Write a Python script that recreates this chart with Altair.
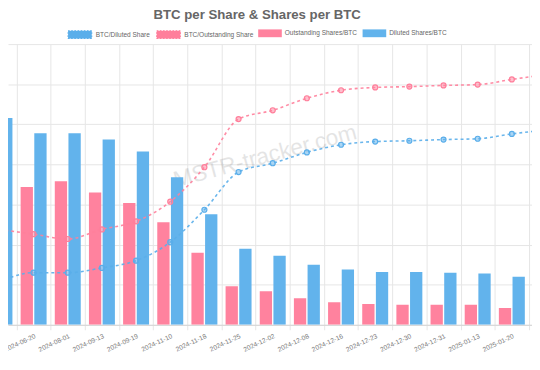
import json
import altair as alt
import pandas as pd

# ---------------- data ----------------
DATES = ["2024-04-29", "2024-06-20", "2024-08-01", "2024-09-13", "2024-09-19",
         "2024-11-10", "2024-11-18", "2024-11-25", "2024-12-02", "2024-12-08",
         "2024-12-16", "2024-12-23", "2024-12-30", "2024-12-31", "2025-01-13",
         "2025-01-20", "2025-01-27"]
OUTSTANDING_SHARES_PER_BTC = [833, 822, 829, 815, 802, 778, 740, 698, 692, 683,
                              678, 676, 675, 675, 675, 671, 668]
DILUTED_SHARES_PER_BTC = [908, 889, 889, 881, 866, 834, 788, 745, 736, 725,
                          719, 716, 716, 715, 714, 710, 706]
BTC_PER_DILUTED_SHARE = [0.000908, 0.000930, 0.000930, 0.000942, 0.000960,
                         0.001006, 0.001087, 0.001181, 0.001203, 0.001230,
                         0.001249, 0.001257, 0.001259, 0.001262, 0.001264,
                         0.001276, 0.001286]
BTC_PER_OUTSTANDING_SHARE = [0.001038, 0.001026, 0.001014, 0.001038, 0.001058,
                             0.001107, 0.001193, 0.001313, 0.001335, 0.001365,
                             0.001385, 0.001392, 0.001394, 0.001397, 0.001399,
                             0.001412, 0.001424]
BAR_SERIES = ["Outstanding Shares/BTC", "Diluted Shares/BTC"]
LINE_SERIES = ["BTC/Diluted Share", "BTC/Outstanding Share"]
TITLE = "BTC per Share & Shares per BTC"
WATERMARK = "MSTR-tracker.com"

# ---------------- tables ----------------
idx = list(range(len(DATES)))
bars = pd.DataFrame({
    "idx": idx * 2,
    "date": DATES * 2,
    "series": [BAR_SERIES[0]] * len(idx) + [BAR_SERIES[1]] * len(idx),
    "value": OUTSTANDING_SHARES_PER_BTC + DILUTED_SHARES_PER_BTC,
})
lines = pd.DataFrame({
    "idx": idx * 2,
    "date": DATES * 2,
    "series": [LINE_SERIES[0]] * len(idx) + [LINE_SERIES[1]] * len(idx),
    "value": BTC_PER_DILUTED_SHARE + BTC_PER_OUTSTANDING_SHARE,
})

FONT = "Liberation Sans"
GRID = "#e6e6e6"
PINK_BAR, BLUE_BAR = "#ff829e", "#62b3ec"
BLUE_LINE, PINK_LINE = "#5aaeea", "#ff7f9b"

xscale = alt.Scale(domain=[0.2503, 15.59], nice=False, zero=False)
xvals = [k / 2 for k in range(1, 32)]
xaxis = alt.Axis(
    values=xvals,
    labelExpr="datum.value % 1 == 0 ? " + json.dumps(DATES) + "[datum.value] : ''",
    grid=True, gridColor=GRID, gridWidth=1,
    gridOpacity={"condition": {"test": "datum.value % 1 != 0", "value": 1}, "value": 0},
    ticks=True, tickSize=5, tickColor=GRID,
    tickOpacity={"condition": {"test": "datum.value % 1 != 0", "value": 1}, "value": 0},
    domainColor="#d4d4d4", labelAngle=335, labelFontSize=6.7, labelColor="#777",
    labelFont=FONT, labelOverlap=False, labelPadding=3, labelFlush=False, title=None,
)

left_scale = alt.Scale(domain=[650, 1000], nice=False, zero=False)
left_axis = alt.Axis(values=list(range(650, 1001, 50)), grid=True, gridColor=GRID,
                     labels=False, ticks=False, domain=False, title=None)
right_scale = alt.Scale(domain=[0.0008, 0.0015], nice=False, zero=False)
right_axis = alt.Axis(orient="right", grid=False, labels=False, ticks=False,
                      domain=False, title=None)

LEGEND_SYMBOL = "M-1,-0.33H1V0.33H-1Z"
bar_legend = alt.Legend(orient="none", legendX=254, legendY=-23, direction="horizontal",
                        title=None, symbolType=LEGEND_SYMBOL, symbolSize=576,
                        symbolStrokeWidth=0, symbolOpacity=1, labelFontSize=6.6,
                        labelColor="#666", labelFont=FONT, labelOffset=3,
                        columnPadding=5, padding=0)
line_legend = alt.Legend(orient="none", legendX=60, legendY=-23, direction="horizontal",
                         title=None, symbolType=LEGEND_SYMBOL, symbolSize=576,
                         symbolStrokeWidth=1.1,
                         symbolDash=[1.6, 1.6], symbolOpacity=1, labelFontSize=6.6,
                         labelColor="#666", labelFont=FONT, labelOffset=3,
                         columnPadding=4, padding=0)

watermark = alt.Chart(pd.DataFrame({"t": [WATERMARK]})).mark_text(
    fontSize=23, font=FONT, angle=345, color="#000", opacity=0.1,
    align="center", baseline="middle",
).encode(text="t:N", x=alt.value(261), y=alt.value(114))

bar_layer = alt.Chart(bars).transform_calculate(
    x0="datum.idx + (datum.series == '%s' ? -0.38 : 0.02)" % BAR_SERIES[0],
    x1="datum.idx + (datum.series == '%s' ? -0.02 : 0.38)" % BAR_SERIES[0],
).mark_bar(clip=True, strokeWidth=0).encode(
    x=alt.X("x0:Q", scale=xscale, axis=xaxis),
    x2="x1:Q",
    y=alt.Y("value:Q", scale=left_scale, axis=left_axis),
    y2=alt.datum(650),
    fill=alt.Fill("series:N", scale=alt.Scale(domain=BAR_SERIES, range=[PINK_BAR, BLUE_BAR]),
                  legend=bar_legend),
)

stroke_scale = alt.Scale(domain=LINE_SERIES, range=[BLUE_LINE, PINK_LINE])
color_scale = alt.Scale(domain=LINE_SERIES, range=[BLUE_LINE, PINK_LINE])
line_layer = alt.Chart(lines).mark_line(
    clip=True, strokeDash=[3, 3], strokeWidth=1.6, interpolate="monotone", opacity=0.9,
).encode(
    x=alt.X("idx:Q", scale=xscale, axis=xaxis),
    y=alt.Y("value:Q", scale=right_scale, axis=right_axis),
    stroke=alt.Stroke("series:N", scale=stroke_scale, legend=line_legend),
)
point_fill = alt.Chart(lines).mark_point(
    clip=True, filled=True, size=26, strokeWidth=0, opacity=0.5,
).encode(
    x=alt.X("idx:Q", scale=xscale, axis=xaxis),
    y=alt.Y("value:Q", scale=right_scale, axis=right_axis),
    color=alt.Color("series:N", scale=color_scale, legend=None),
)
point_ring = alt.Chart(lines).mark_point(
    clip=True, filled=False, size=26, strokeWidth=1.2, opacity=1,
).encode(
    x=alt.X("idx:Q", scale=xscale, axis=xaxis),
    y=alt.Y("value:Q", scale=right_scale, axis=right_axis),
    color=alt.Color("series:N", scale=color_scale, legend=None),
)

chart = alt.layer(
    watermark, bar_layer, alt.layer(line_layer, point_fill, point_ring)
).resolve_scale(y="independent").properties(
    width=532, height=285,
    autosize=alt.AutoSizeParams(type="none"),
    padding={"left": 0, "top": 34, "right": 0, "bottom": 30},
    title=alt.TitleParams(TITLE, fontSize=13.4, fontWeight="bold", color="#666",
                          font=FONT, anchor="middle", dx=-13, dy=14, offset=3,
                          baseline="alphabetic"),
).configure_view(stroke=None).configure_legend(symbolBaseFillColor="#e2e2e2")

chart.save("out.html", embed_options={"renderer": "svg", "actions": False})
